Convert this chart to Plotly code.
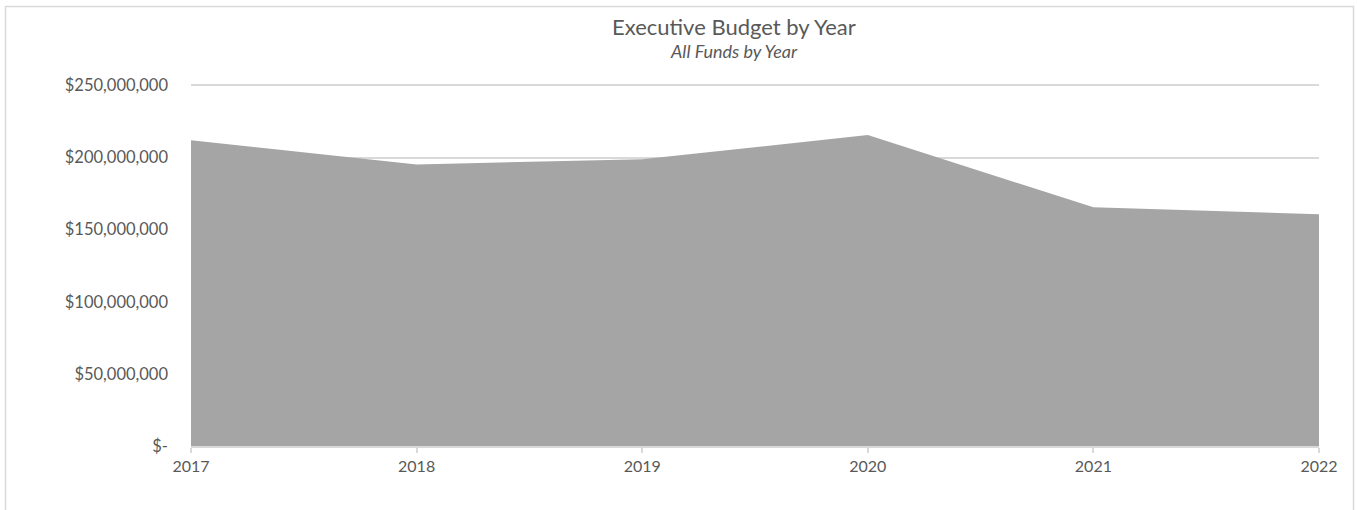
import plotly.graph_objects as go

years = [2017, 2018, 2019, 2020, 2021, 2022]
budget = [212_000_000, 195_200_000, 198_800_000, 215_600_000, 165_500_000, 160_700_000]
ytick_vals = [0, 50_000_000, 100_000_000, 150_000_000, 200_000_000, 250_000_000]
ytick_text = ["$-" if v == 0 else "${:,.0f}".format(v) for v in ytick_vals]

W, H = 1357, 510
L, R, T, B = 191, 38, 84, 64
pw, ph = W - L - R, H - T - B

def px(x):
    return (x - L) / pw

def py(y):
    return (H - B - y) / ph

TXT = "#595959"
GRID = "#d9d9d9"
FONT = "Lato"

fig = go.Figure()
fig.add_trace(go.Scatter(
    x=years, y=budget, mode="lines", fill="tozeroy",
    fillcolor="#a5a5a5", line=dict(width=0, color="#a5a5a5"),
    hoverinfo="x+y", showlegend=False,
))

fig.update_layout(
    width=W, height=H,
    margin=dict(l=L, r=R, t=T, b=B, pad=0),
    paper_bgcolor="white", plot_bgcolor="white",
    font=dict(family=FONT, color=TXT, size=16),
    xaxis=dict(
        range=[2017, 2022], tickvals=years, ticktext=[str(y) for y in years],
        showgrid=False, zeroline=False, showline=True, linecolor=GRID, linewidth=1.5,
        ticks="outside", ticklen=5, tickcolor=GRID, tickwidth=1.5,
        tickfont=dict(family=FONT, size=16, color=TXT),
    ),
    yaxis=dict(
        range=[0, 251_000_000], tickvals=ytick_vals, ticktext=ytick_text,
        showgrid=True, gridcolor=GRID, gridwidth=1.5, zeroline=False, showline=False,
        ticks="", ticklabelstandoff=22,
        tickfont=dict(family=FONT, size=16.5, color=TXT),
    ),
    annotations=[
        dict(text="Executive Budget by Year", x=px(734), y=py(26), xref="paper", yref="paper",
             xanchor="center", yanchor="middle", showarrow=False,
             font=dict(family=FONT, size=22, color=TXT)),
        dict(text="<i>All Funds by Year</i>", x=px(734), y=py(51.5), xref="paper", yref="paper",
             xanchor="center", yanchor="middle", showarrow=False,
             font=dict(family=FONT, size=18, color=TXT)),
    ],
    shapes=[
        dict(type="rect", xref="paper", yref="paper",
             x0=px(5.5), x1=px(1353.5), y0=py(515), y1=py(6.5),
             line=dict(color=GRID, width=1.5), fillcolor="rgba(0,0,0,0)", layer="below"),
    ],
)

fig.write_html("out.html", config={"displayModeBar": False},
               post_script="document.body.style.margin='0';")
